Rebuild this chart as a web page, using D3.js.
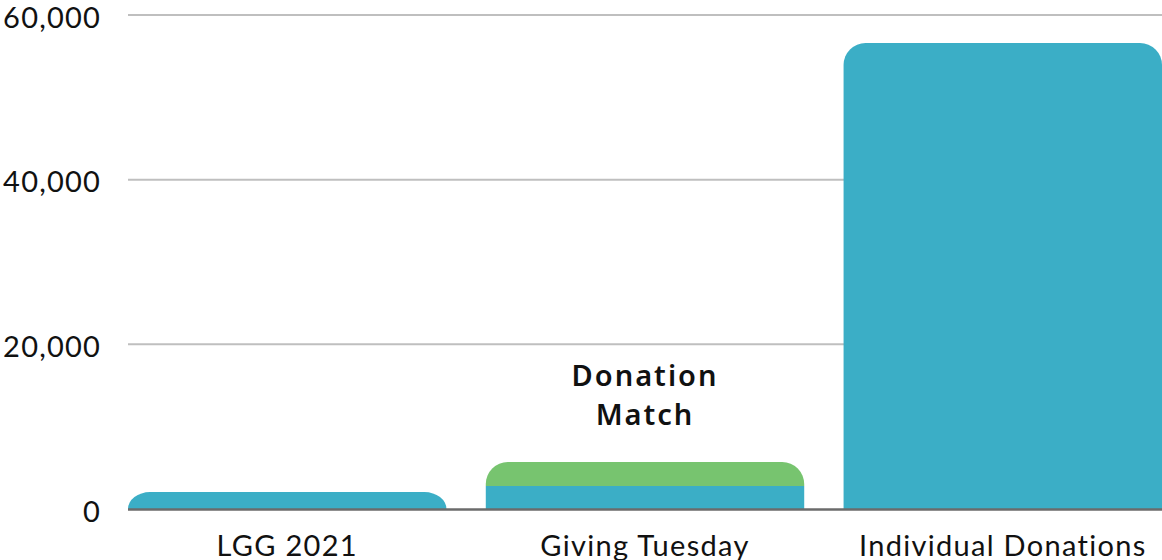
<!DOCTYPE html>
<html><head><meta charset="utf-8">
<script src="https://cdn.jsdelivr.net/npm/d3@7"></script>
<style>html,body{margin:0;padding:0;background:#fff;overflow:hidden}</style>
</head><body>
<svg id="c" width="1162" height="560"></svg>
<script>
const categories = ["LGG 2021", "Giving Tuesday", "Individual Donations"];
const baseValues = [2050, 2800, 56600];
const matchValues = [0, 2900, 0];
const yTicks = [0, 20000, 40000, 60000];
const annotation = ["Donation", "Match"];

const svg = d3.select("#c");
const x = d3.scaleBand().domain(categories).range([128, 1162]).paddingInner(0.11).paddingOuter(0);
const y = d3.scaleLinear().domain([0, 60000]).range([509, 15]);
const fmt = d3.format(",");

// gridlines
svg.append("g").selectAll("line").data(yTicks.filter(d => d > 0)).join("line")
  .attr("x1", 128).attr("x2", 1162)
  .attr("y1", d => y(d)).attr("y2", d => y(d))
  .attr("stroke", "#bfbfbf").attr("stroke-width", 2);

// y tick labels
svg.append("g").selectAll("text").data(yTicks).join("text")
  .attr("x", 101).attr("y", d => y(d) + 1)
  .attr("text-anchor", "end").attr("dominant-baseline", "central")
  .attr("font-family", "Lato, 'Noto Sans', sans-serif").attr("font-size", 29)
  .attr("letter-spacing", 1.2)
  .attr("fill", "#111").text(d => fmt(d));

function topRounded(x0, x1, yTop, yBot, r) {
  const h = yBot - yTop;
  const ry = Math.min(r, h);
  const rx = r;
  return `M${x0},${yBot} L${x0},${yTop + ry} A${rx},${ry} 0 0 1 ${x0 + rx},${yTop} L${x1 - rx},${yTop} A${rx},${ry} 0 0 1 ${x1},${yTop + ry} L${x1},${yBot} Z`;
}

const rows = categories.map((c, i) => ({ c, base: baseValues[i], match: matchValues[i] }));
const g = svg.append("g");
rows.forEach(d => {
  const x0 = x(d.c), x1 = x(d.c) + x.bandwidth();
  if (d.match > 0) {
    g.append("rect").attr("x", x0).attr("width", x.bandwidth())
      .attr("y", y(d.base)).attr("height", y(0) - y(d.base)).attr("fill", "#3BAEC6");
    g.append("path").attr("d", topRounded(x0, x1, y(d.base + d.match), y(d.base), 22)).attr("fill", "#77C46F");
  } else {
    g.append("path").attr("d", topRounded(x0, x1, y(d.base), y(0), 22)).attr("fill", "#3BAEC6");
  }
});

// baseline
svg.append("line").attr("x1", 128).attr("x2", 1162).attr("y1", y(0) + 0.5).attr("y2", y(0) + 0.5)
  .attr("stroke", "#6b6b6b").attr("stroke-width", 2.5);

// category labels
svg.append("g").selectAll("text").data(categories).join("text")
  .attr("x", d => x(d) + x.bandwidth() / 2).attr("y", 556)
  .attr("text-anchor", "middle")
  .attr("font-family", "Lato, 'Noto Sans', sans-serif").attr("font-size", 29)
  .attr("letter-spacing", 1.3)
  .attr("fill", "#111").text(d => d);

// annotation
const ax = x("Giving Tuesday") + x.bandwidth() / 2;
svg.append("text").attr("x", ax).attr("y", 386).attr("text-anchor", "middle")
  .attr("font-family", "'Noto Sans', sans-serif").attr("font-weight", 600).attr("font-size", 29)
  .attr("letter-spacing", 2)
  .attr("fill", "#111")
  .selectAll("tspan").data(annotation).join("tspan")
  .attr("x", ax).attr("dy", (d, i) => i === 0 ? 0 : 39).text(d => d);
</script>
</body></html>
